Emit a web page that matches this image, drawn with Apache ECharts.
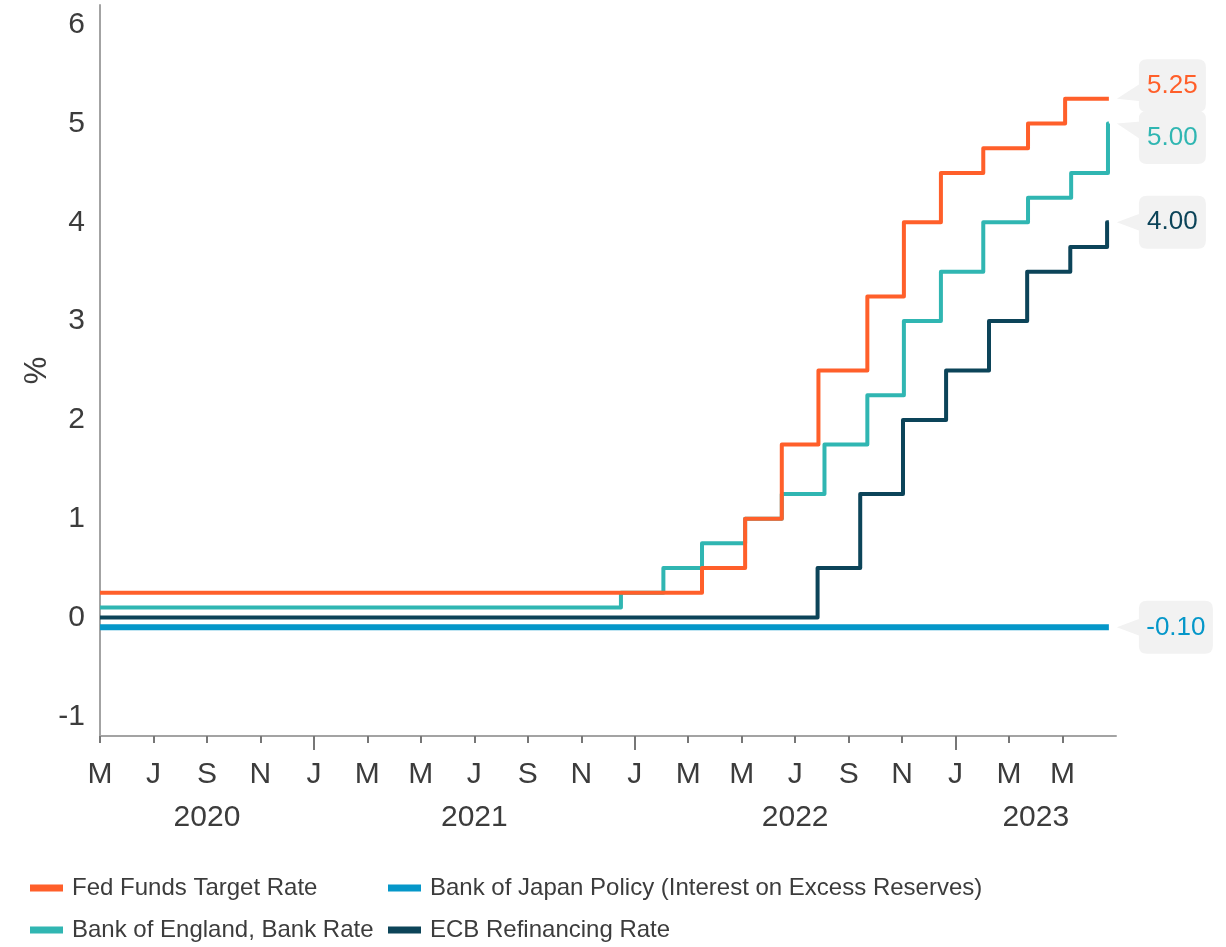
<!DOCTYPE html>
<html>
<head>
<meta charset="utf-8">
<script src="https://cdn.jsdelivr.net/npm/echarts@6/dist/echarts.min.js"></script>
<style>
  html, body { margin: 0; background: #fff; }
  #chart { width: 1226px; height: 947px; }
</style>
</head>
<body>
<div id="chart"></div>
<script>
// policy rate changes (effective dates) and the level from that date on
const endDate = '2023-06-23'

const fedDates = ['2020-05-01', '2022-03-17', '2022-05-05', '2022-06-16', '2022-07-28', '2022-09-22',
  '2022-11-03', '2022-12-15', '2023-02-02', '2023-03-23', '2023-05-04']
const fedRates = [0.25, 0.5, 1.0, 1.75, 2.5, 3.25, 4.0, 4.5, 4.75, 5.0, 5.25]

const boeDates = ['2020-05-01', '2021-12-16', '2022-02-03', '2022-03-17', '2022-05-05', '2022-06-16',
  '2022-08-04', '2022-09-22', '2022-11-03', '2022-12-15', '2023-02-02', '2023-03-23', '2023-05-11', '2023-06-22']
const boeRates = [0.1, 0.25, 0.5, 0.75, 1.0, 1.25, 1.75, 2.25, 3.0, 3.5, 4.0, 4.25, 4.5, 5.0]

const ecbDates = ['2020-05-01', '2022-07-27', '2022-09-14', '2022-11-02', '2022-12-21', '2023-02-08',
  '2023-03-22', '2023-05-10', '2023-06-21']
const ecbRates = [0, 0.5, 1.25, 2.0, 2.5, 3.0, 3.5, 3.75, 4.0]

const bojDates = ['2020-05-01']
const bojRates = [-0.1]

// axis labels
const monthLabels = ['M', 'J', 'S', 'N', 'J', 'M', 'M', 'J', 'S', 'N', 'J', 'M', 'M', 'J', 'S', 'N', 'J', 'M', 'M']
const monthTicks = monthLabels.map((_, i) => i * 2)   // months after May 2020
const yearTicks = [8, 20, 32]                           // January of each year
const yearLabels = ['2020', '2021', '2022', '2023']
const yearLabelPos = [4, 14, 26, 35]
const yLabels = [-1, 0, 1, 2, 3, 4, 5, 6]

const font = "'Liberation Sans', Arial, sans-serif"
const textColor = '#3c3c3c'
const axisColor = '#a3a3a3'

// date -> months since 1 May 2020
const toMonth = (s) => {
  const [y, m, d] = s.split('-').map(Number)
  const days = new Date(y, m, 0).getDate()
  return (y - 2020) * 12 + (m - 5) + (d - 1) / days
}

const stepData = (dates, rates) => {
  const pts = dates.map((d, i) => [toMonth(d), rates[i]])
  pts.push([toMonth(endDate), rates[rates.length - 1]])
  return pts
}

// grey callout: box with a pointer whose tip sits d px below the box centre
const calloutPath = (d, w) => {
  const x0 = 22, x1 = 22 + w, h = 53, r = 8, c = h / 2
  const t = c + d, b = c + d * 0.5
  return 'path://M0,' + t + ' L24,' + (b - 9) + ' L24,' + (b + 9) + ' Z ' +
    'M' + (x0 + r) + ',0 L' + (x1 - r) + ',0 Q' + x1 + ',0 ' + x1 + ',' + r +
    ' L' + x1 + ',' + (h - r) + ' Q' + x1 + ',' + h + ' ' + (x1 - r) + ',' + h +
    ' L' + (x0 + r) + ',' + h + ' Q' + x0 + ',' + h + ' ' + x0 + ',' + (h - r) +
    ' L' + x0 + ',' + r + ' Q' + x0 + ',0 ' + (x0 + r) + ',0 Z'
}

const makeSeries = (name, dates, rates, color, width, d, boxW) => {
  const data = stepData(dates, rates)
  const last = data[data.length - 1]
  return {
    name,
    type: 'line',
    step: 'end',
    data,
    showSymbol: false,
    symbol: 'none',
    color,
    lineStyle: { color, width, join: 'round' },
    markPoint: {
      silent: true,
      symbol: calloutPath(d, boxW),
      symbolSize: [22 + boxW, 53],
      symbolOffset: [8 + (22 + boxW) / 2, -d],
      itemStyle: { color: '#f2f2f2' },
      label: {
        show: true,
        position: 'inside',
        offset: [11, 0],
        color,
        fontSize: 26,
        fontFamily: font,
        formatter: (p) => p.value.toFixed(2)
      },
      data: [{ coord: last, value: last[1] }]
    }
  }
}

const legendBase = {
  orient: 'vertical',
  top: 876,
  padding: 0,
  icon: 'rect',
  itemWidth: 33,
  itemHeight: 7,
  itemGap: 18,
  textStyle: { fontSize: 24, fontFamily: font, color: textColor, lineHeight: 24, padding: [0, 0, 0, 4] }
}

const chart = echarts.init(document.getElementById('chart'))

chart.setOption({
  animation: false,
  backgroundColor: '#fff',
  grid: { left: 100, right: 110, top: 5, bottom: 211, outerBoundsMode: 'none' },
  xAxis: [
    {
      type: 'value',
      min: 0,
      max: 38,
      position: 'bottom',
      splitLine: { show: false },
      axisLine: { onZero: false, lineStyle: { color: axisColor, width: 2 } },
      axisTick: { customValues: monthTicks, length: 7, lineStyle: { color: '#777', width: 2 } },
      axisLabel: {
        customValues: monthTicks,
        formatter: (v) => monthLabels[Math.round(v / 2)] || '',
        fontSize: 30,
        fontFamily: font,
        color: textColor,
        margin: 24
      }
    },
    {
      type: 'value',
      min: 0,
      max: 38,
      position: 'bottom',
      splitLine: { show: false },
      axisLine: { show: false, onZero: false },
      axisTick: { customValues: yearTicks, length: 14, lineStyle: { color: '#777', width: 2 } },
      axisLabel: {
        customValues: yearLabelPos,
        formatter: (v) => yearLabels[yearLabelPos.indexOf(v)] || '',
        fontSize: 30,
        fontFamily: font,
        color: textColor,
        margin: 67
      }
    }
  ],
  yAxis: {
    type: 'value',
    min: -1.2,
    max: 6.2,
    name: '%',
    nameLocation: 'middle',
    nameRotate: 90,
    nameGap: 47,
    nameMoveOverlap: false,
    nameTextStyle: { fontSize: 31, fontFamily: font, color: textColor },
    splitLine: { show: false },
    axisLine: { show: true, lineStyle: { color: axisColor, width: 2 } },
    axisTick: { show: false },
    axisLabel: {
      customValues: yLabels,
      fontSize: 30,
      fontFamily: font,
      color: textColor,
      margin: 15
    }
  },
  legend: [
    Object.assign({}, legendBase, {
      left: 30,
      data: ['Fed Funds Target Rate', 'Bank of England, Bank Rate']
    }),
    Object.assign({}, legendBase, {
      left: 388,
      data: ['Bank of Japan Policy (Interest on Excess Reserves)', 'ECB Refinancing Rate']
    })
  ],
  series: [
    makeSeries('Bank of England, Bank Rate', boeDates, boeRates, '#30b6b2', 4, -14, 67),
    makeSeries('ECB Refinancing Rate', ecbDates, ecbRates, '#0c4459', 4, 0, 67),
    makeSeries('Bank of Japan Policy (Interest on Excess Reserves)', bojDates, bojRates, '#0597c9', 6, 0, 74),
    makeSeries('Fed Funds Target Rate', fedDates, fedRates, '#ff5f2a', 4, 13, 67)
  ]
})
</script>
</body>
</html>
